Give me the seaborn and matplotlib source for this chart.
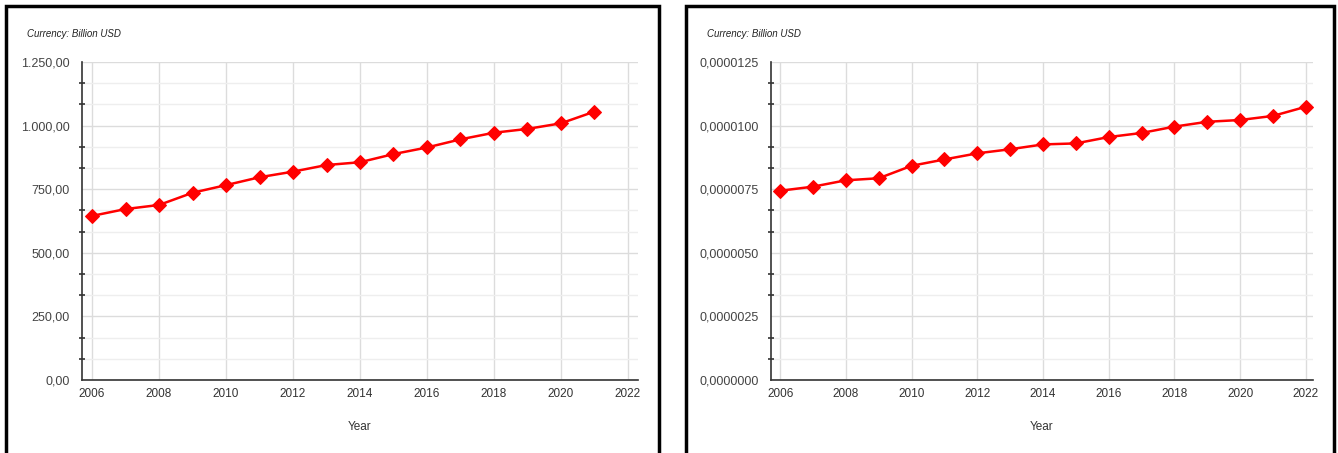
import matplotlib
matplotlib.use("Agg")
import matplotlib.pyplot as plt
import seaborn as sns
import pandas as pd
from matplotlib.ticker import FuncFormatter, MultipleLocator
from matplotlib.patches import Rectangle

sns.set_theme(style="white")
plt.rcParams['font.family'] = ['Liberation Sans', 'DejaVu Sans']

years_left = [2006, 2007, 2008, 2009, 2010, 2011, 2012, 2013, 2014, 2015,
              2016, 2017, 2018, 2019, 2020, 2021]
values_left = [645, 672, 688, 736, 766, 797, 819, 845, 856, 888,
               914, 946, 972, 987, 1009, 1055]

years_right = [2006, 2007, 2008, 2009, 2010, 2011, 2012, 2013, 2014, 2015,
               2016, 2017, 2018, 2019, 2020, 2021, 2022]
values_right = [7.44e-6, 7.60e-6, 7.85e-6, 7.93e-6, 8.42e-6, 8.67e-6, 8.91e-6,
                9.07e-6, 9.26e-6, 9.30e-6, 9.55e-6, 9.71e-6, 9.96e-6, 10.15e-6,
                10.22e-6, 10.38e-6, 10.74e-6]

unit_label = "Currency: Billion USD"
x_label = "Year"
x_ticks = [2006, 2008, 2010, 2012, 2014, 2016, 2018, 2020, 2022]

W, H = 1338, 453
fig = plt.figure(figsize=(W / 100, H / 100), dpi=100)


def de_fmt(v, decimals):
    s = f"{v:,.{decimals}f}"
    return s.replace(",", "X").replace(".", ",").replace("X", ".")


def make_panel(px_left, px_right, px_top, px_bottom, years, values, ymax, ystep,
               decimals, xlim, box):
    ax = fig.add_axes([px_left / W, (H - px_bottom) / H,
                       (px_right - px_left) / W, (px_bottom - px_top) / H])
    df = pd.DataFrame({"year": years, "value": values})
    sns.lineplot(data=df, x="year", y="value", ax=ax, color="#ff0000",
                 linewidth=1.8, marker="D", markersize=7,
                 markeredgecolor="#ff0000", markerfacecolor="#ff0000")
    ax.set_xlim(*xlim)
    ax.set_ylim(0, ymax)
    ax.set_xticks(x_ticks)
    ax.yaxis.set_major_locator(MultipleLocator(ystep))
    ax.yaxis.set_minor_locator(MultipleLocator(ystep / 3))
    ax.yaxis.set_major_formatter(FuncFormatter(lambda v, p: de_fmt(v, decimals)))
    ax.grid(True, which="major", axis="both", color="#dcdcdc", linewidth=1)
    ax.grid(True, which="minor", axis="y", color="#eeeeee", linewidth=1)
    ax.set_axisbelow(True)
    for s in ["top", "right"]:
        ax.spines[s].set_visible(False)
    for s in ["left", "bottom"]:
        ax.spines[s].set_color("#333333")
        ax.spines[s].set_linewidth(1.2)
    ax.tick_params(axis="y", which="major", direction="inout", length=10,
                   width=1.2, color="#333333", labelsize=9, labelcolor="#444444", pad=4)
    ax.tick_params(axis="y", which="minor", direction="inout", length=5,
                   width=1.2, color="#333333", left=True)
    ax.tick_params(axis="x", which="major", length=0, labelsize=8.5,
                   labelcolor="#333333", pad=6)
    ax.set_xlabel(x_label, fontsize=8.5, color="#333333", labelpad=15)
    ax.set_ylabel("")
    ax.text(-px_left / (px_right - px_left) + (box[0] + 21) / (px_right - px_left),
            1 + 28 / (px_bottom - px_top), unit_label, transform=ax.transAxes,
            fontsize=7, style="italic", color="#222222", ha="left", va="center")
    fig.patches.append(Rectangle((box[0] / W, -0.05), (box[1] - box[0]) / W,
                                 (H - box[2]) / H + 0.05, transform=fig.transFigure,
                                 fill=False, edgecolor="#000000", linewidth=2.5))
    return ax


make_panel(82, 638, 62, 380, years_left, values_left, 1250, 250, 2,
           (2005.7, 2022.3), (6, 659, 6))
make_panel(771, 1313, 62, 380, years_right, values_right, 1.25e-5, 2.5e-6, 7,
           (2005.72, 2022.22), (686, 1334, 6))

fig.savefig("out.png", dpi=100)
